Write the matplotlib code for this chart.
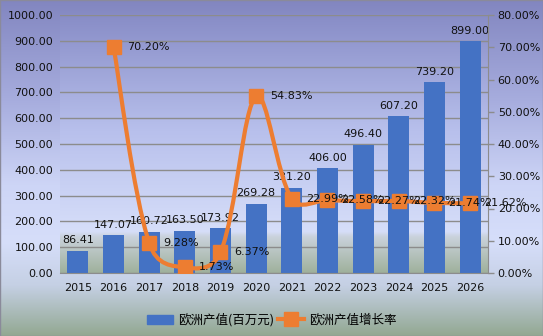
import numpy as np
import matplotlib
matplotlib.use("Agg")
import matplotlib.pyplot as plt
from matplotlib.colors import LinearSegmentedColormap
from matplotlib.path import Path
from matplotlib.patches import PathPatch, Rectangle
from matplotlib.lines import Line2D
from matplotlib.ticker import FuncFormatter, MultipleLocator

years = ["2015", "2016", "2017", "2018", "2019", "2020",
         "2021", "2022", "2023", "2024", "2025", "2026"]
output = [86.41, 147.07, 160.72, 163.50, 173.92, 269.28,
          331.20, 406.00, 496.40, 607.20, 739.20, 899.00]
# growth rate in percent, first year has none
growth = [None, 70.20, 9.28, 1.73, 6.37, 54.83,
          22.99, 22.58, 22.27, 22.32, 21.74, 21.62]

bar_name = "欧洲产值(百万元)"
line_name = "欧洲产值增长率"
BLUE = "#4472C4"
ORANGE = "#ED7D31"
GRID = "#8C8C8C"

plt.rcParams["font.family"] = ["DejaVu Sans", "Noto Sans CJK SC"]

fig = plt.figure(figsize=(5.43, 3.36), dpi=100)

# whole-figure background gradient
bg = fig.add_axes([0, 0, 1, 1])
bg.axis("off")
fig_cmap = LinearSegmentedColormap.from_list("figbg", [
    (0.0, "#8286C0"), (0.30, "#A7ADDE"), (0.55, "#CDD5F6"),
    (0.72, "#D6DEFA"), (0.85, "#C5D0E4"), (1.0, "#93A892")])
bg.imshow(np.linspace(0, 1, 256).reshape(-1, 1), cmap=fig_cmap,
          aspect="auto", extent=[0, 1, 0, 1], transform=bg.transAxes)

ax = fig.add_axes([60 / 543, 1 - 273 / 336, 428 / 543, 258 / 336])
ax.patch.set_visible(False)
plot_cmap = LinearSegmentedColormap.from_list("plotbg", [
    (0.0, "#888DC7"), (0.45, "#B8C0EC"), (0.84, "#D6DEF9"),
    (0.86, "#CAD2DC"), (1.0, "#9FB19C")])
ax.imshow(np.linspace(0, 1, 256).reshape(-1, 1), cmap=plot_cmap,
          aspect="auto", extent=[0, 1, 0, 1], transform=ax.transAxes,
          zorder=-10)

x = np.arange(len(years))
ax.bar(x, output, width=0.59, color=BLUE, zorder=2)
for xi, v in zip(x, output):
    ax.annotate(f"{v:.2f}", (xi, v), xytext=(0, 4), textcoords="offset points",
                ha="center", va="bottom", fontsize=8, color="#111111",
                zorder=3)

ax.set_xlim(-0.5, len(years) - 0.5)
ax.set_ylim(0, 1000)
ax.yaxis.set_major_locator(MultipleLocator(100))
ax.yaxis.set_major_formatter(FuncFormatter(lambda v, _: f"{v:.2f}"))
ax.grid(axis="y", color=GRID, linewidth=1)
ax.set_axisbelow(True)
ax.set_xticks(x)
ax.set_xticklabels(years)
ax.tick_params(axis="x", length=0, pad=7, labelsize=8, labelcolor="#111111")
ax.tick_params(axis="y", length=0, pad=5, labelsize=8, labelcolor="#111111")
for side in ("left", "top", "right"):
    ax.spines[side].set_visible(False)
ax.spines["bottom"].set_color(GRID)

ax2 = ax.twinx()
ax2.patch.set_visible(False)
ax2.set_ylim(0, 80)
ax2.yaxis.set_major_locator(MultipleLocator(10))
ax2.yaxis.set_major_formatter(FuncFormatter(lambda v, _: f"{v:.2f}%"))
ax2.tick_params(axis="y", length=4, width=1, color=GRID, pad=3,
                labelsize=8, labelcolor="#111111")
for side in ("left", "top", "bottom"):
    ax2.spines[side].set_visible(False)
ax2.spines["right"].set_color(GRID)

# smoothed growth curve: cubic Beziers built in pixel space, tangent
# lengths weighted by the (square-rooted) neighbouring segment lengths
gx = [xi for xi, g in zip(x, growth) if g is not None]
gy = [g for g in growth if g is not None]
pts = ax2.transData.transform(np.column_stack([gx, gy]))
n = len(pts)
c_out, c_in = [], []
for i in range(n):
    prev = pts[max(i - 1, 0)]
    nxt = pts[min(i + 1, n - 1)]
    t = nxt - prev
    d_prev = np.sqrt(np.hypot(*(pts[i] - prev)))
    d_next = np.sqrt(np.hypot(*(nxt - pts[i])))
    if i == 0 or i == n - 1:
        r_out = r_in = 0.5
    else:
        r_out = d_next / (d_prev + d_next)
        r_in = d_prev / (d_prev + d_next)
    c_out.append(pts[i] + t * r_out / 3)
    c_in.append(pts[i] - t * r_in / 3)
verts = [pts[0]]
codes = [Path.MOVETO]
for i in range(n - 1):
    verts += [c_out[i], c_in[i + 1], pts[i + 1]]
    codes += [Path.CURVE4] * 3
verts = ax2.transData.inverted().transform(np.array(verts))
ax2.add_patch(PathPatch(Path(verts, codes), fill=False, edgecolor=ORANGE,
                        linewidth=3, capstyle="round", joinstyle="round",
                        zorder=3))
ax2.plot(gx, gy, linestyle="none", marker="s", markersize=9.5,
         color=ORANGE, zorder=4)
for xi, g in zip(gx, gy):
    ax2.annotate(f"{g:.2f}%", (xi, g), xytext=(10, 0),
                 textcoords="offset points", ha="left", va="center",
                 fontsize=8, color="#111111", zorder=5)

handles = [Rectangle((0, 0), 1, 1, color=BLUE),
           Line2D([], [], color=ORANGE, linewidth=3, marker="s",
                  markersize=9.5)]
fig.legend(handles, [bar_name, line_name], loc="center",
           bbox_to_anchor=(0.5, 1 - 320 / 336), ncol=2, frameon=False,
           prop={"family": ["Noto Sans CJK SC", "DejaVu Sans"], "size": 9},
           handlelength=2.1, handletextpad=0.4, columnspacing=0.3)

fig.add_artist(Rectangle((0, 0), 1, 1, transform=fig.transFigure,
                         fill=False, edgecolor="#8A8A9A", linewidth=1))

fig.savefig("out.png", dpi=100)
